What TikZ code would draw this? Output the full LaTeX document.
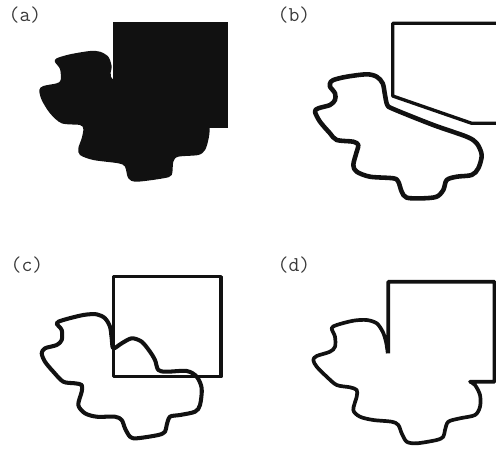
\documentclass[tikz,border=0pt]{standalone}
\usepackage{fontspec}
\usepackage{tikz}
\usepackage{xcolor}
\definecolor{ink}{HTML}{111111}
\definecolor{etiq}{HTML}{3A3A3A}
\tikzset{
  etiqueta/.style={font=\fontsize{12}{14}\selectfont\ttfamily,text=etiq,inner sep=0pt},
  borde/.style={draw=ink,line width=1.9pt,line join=round,line cap=round},
  curva/.style={draw=ink,line width=2.3pt,line join=round},
}

\begin{document}
\begin{tikzpicture}[x=0.02cm,y=-0.02cm]
  \useasboundingbox (0,0) rectangle (496,450);

  % --- Etiquetas de los paneles ---
  \node[etiqueta] (lbla) at (25,15) {(a)};
  \node[etiqueta] (lblb) at (294,15) {(b)};
  \node[etiqueta] (lblc) at (27,265) {(c)};
  \node[etiqueta] (lbld) at (294,265) {(d)};

  % --- (a) union rellena ---
  \fill[ink] (113.3,21.7) rectangle (228.3,128.3);
  \fill[ink] plot[smooth cycle,tension=0.5] coordinates {
    (114,80) (111.7,66) (108.3,56.7) (100,51.7) (90,51) (70,54.3)
    (56.7,58.3) (55,62) (60,69) (60.7,80) (56.7,83.3) (43.3,86)
    (39.3,90) (41.7,100) (50,113.3) (61.7,123.3) (80,125) (83.3,129)
    (81.7,138.3) (78.3,148.3) (80,155) (93.3,160) (118.3,163.3)
    (125,166.7) (128.3,178.3) (136.7,181.7) (163.3,178.3) (171.7,175)
    (173.3,161.7) (178.3,156.7) (198.3,155) (205,150) (208.3,140)
    (209.5,128) (205,110) (160,95)};

  % --- (b) figuras deformadas ---
  \draw[borde] (497,23.3) -- (392.7,23.3) -- (392.7,96) -- (471.7,123.3) -- (497,123.3);
  \draw[curva,line width=2.6pt] plot[smooth cycle,tension=0.5] coordinates {
    (330,83.3) (333.3,80) (346.7,76.7) (366.7,74.3) (376.7,76.7)
    (382.7,83.3) (385,95) (387.3,105) (393.3,109) (433.3,125)
    (466.7,136.7) (476.7,143.3) (481.7,155) (478.3,168.3) (471.7,175)
    (456.7,176.7) (446.7,180) (443.3,190) (436.7,196.7) (423.3,198.3)
    (406.7,197.7) (401.7,191.7) (398.3,181.7) (393.3,178.3) (370,176.7)
    (356.7,171.7) (353.3,165) (356.7,151.7) (358.3,145) (353.3,141.7)
    (336.7,140) (330,133.3) (320,121.7) (315,111.7) (318.3,108.3)
    (330,105) (335,100) (335,93.3) (330,86.7)};

  % --- (c) cuadrado y mancha superpuestos ---
  \draw[borde] (113.3,276.7) rectangle (221,376.7);
  \draw[curva] plot[smooth cycle,tension=0.5] coordinates {
    (56.7,323.3) (63.3,320) (83.3,315) (96.7,314.3) (105,318.3)
    (110,326.7) (111.7,338.3) (113.3,348.3) (121.7,343.3) (131.7,338.3)
    (141.7,341.7) (150,351.7) (155,360) (158.3,370) (166.7,371.7)
    (186.7,371) (196.7,376.7) (201.7,388.3) (200,405) (195,411.7)
    (180,415) (170,416.7) (166.7,425) (165,431.7) (158.3,435)
    (136.7,438.3) (130,436.7) (125,428.3) (121.7,420) (115,416.7)
    (96.7,416.7) (85,413.3) (78.3,405) (81.7,391.7) (81.7,385)
    (75,383.3) (63.3,381.7) (53.3,371.7) (45,361.7) (41.7,353.3)
    (45,348.3) (56.7,345) (61.7,340) (61.7,330)};

  % --- (d) contorno de la union con ranura ---
  \draw[curva,line width=2.1pt] plot[smooth,tension=0.5] coordinates {
    (387.8,353.3) (386,341.7) (382.7,331.7) (376.7,323.3) (366.7,320)
    (353.3,320.7) (336.7,325) (331.7,328.3) (335,336.7) (335,346.7)
    (330,351.7) (316.7,356) (313.3,360) (316.7,366.7) (326.7,376.7)
    (336.7,385) (350,387.3) (356.7,390) (356.7,396.7) (353.3,410)
    (360,416.7) (373.3,420) (391.7,421.7) (398.3,425) (401.7,433.3)
    (406.7,441.7) (416.7,443.3) (436.7,440) (443.3,436.7) (445,430)
    (448.3,421.7) (460,418.3) (475,415) (480,406.7) (480,395)
    (475,385) (470,381.7)}
    -- (494.5,381.7) -- (494.5,281.7) -- (388.3,281.7) -- (388.3,353.3);
\end{tikzpicture}
\end{document}
